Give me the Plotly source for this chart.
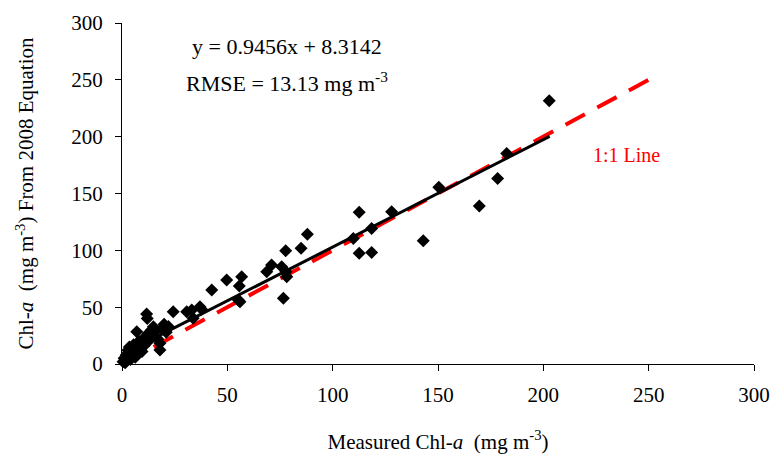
import plotly.graph_objects as go

# Measured vs. predicted chlorophyll-a (mg m^-3)
measured = [
    0.5, 1.0, 1.5, 2.0, 2.2, 2.8, 3.0, 3.5, 4.0, 4.2, 4.8, 5.0, 5.5, 6.0, 6.3,
    7.0, 7.0, 7.5, 8.0, 8.5, 9.0, 9.5, 10.0, 10.5, 11.0, 11.5, 11.7, 12.0, 12.5,
    13.0, 14.0, 14.9, 15.5, 16.0, 17.0, 18.0, 18.0, 19.0, 20.0, 21.0, 22.0,
    24.3, 30.7, 33.1, 33.8, 37.0, 37.8,
    42.6, 49.7, 55.2, 56.0, 55.7, 56.8, 68.7, 71.0, 75.8, 76.6, 77.7, 77.8,
    78.2, 85.0, 88.0,
    109.8, 112.6, 112.6, 118.5, 118.5, 128.0, 143.0, 150.4, 169.6, 178.3,
    182.6, 202.8,
]
predicted = [
    2, 5, 1, 8, 3, 12, 6, 15, 4, 10, 14, 8, 17, 12, 6,
    28.4, 15, 10, 20, 13, 17, 11, 22, 16, 19, 24, 44, 40, 27,
    21, 30, 32.8, 25, 29, 22, 18.2, 12.3, 31, 35, 28, 33,
    46, 46, 47.5, 40.2, 50.4, 48.1,
    65.1, 73.9, 56.3, 54.8, 68.6, 76.8, 81.2, 87.1, 85.6, 57.8, 99.6, 81.2,
    76.8, 101.8, 114.1,
    110.5, 133.4, 97.4, 119.3, 98.2, 134.0, 108.4, 155.4, 139.0, 163.3,
    185.3, 231.6,
]

# Linear fit and 1:1 reference
slope, intercept = 0.9456, 8.3142
fit_x = [0, 203]
fit_y = [slope * v + intercept for v in fit_x]
one_to_one = [0, 250]

axis_ticks = [0, 50, 100, 150, 200, 250, 300]
serif = "Liberation Serif, Times New Roman, serif"

fig = go.Figure()
fig.add_trace(go.Scatter(
    x=one_to_one, y=one_to_one, mode="lines",
    line=dict(color="#ff0000", width=4, dash="22px,14px"),
    showlegend=False, hoverinfo="skip",
))
fig.add_trace(go.Scatter(
    x=measured, y=predicted, mode="markers",
    marker=dict(symbol="diamond", size=10, color="black"),
    showlegend=False, cliponaxis=False,
))
fig.add_trace(go.Scatter(
    x=fit_x, y=fit_y, mode="lines",
    line=dict(color="black", width=3),
    showlegend=False, hoverinfo="skip",
))

axis_common = dict(
    range=[0, 300], tickvals=axis_ticks, showgrid=False, zeroline=False,
    showline=True, linecolor="black", linewidth=1, automargin=False,
    ticks="outside", ticklen=6, tickcolor="black", tickwidth=1,
    tickfont=dict(family=serif, size=21, color="black"),
)
fig.update_xaxes(
    **axis_common,
    ticklabelstandoff=6,
    title=dict(text="Measured Chl-<i>a</i>  (mg m<sup>-3</sup>)",
               font=dict(family=serif, size=21, color="black"), standoff=30),
)
fig.update_yaxes(
    **axis_common,
    ticklabelstandoff=8,
    title=dict(text="Chl-<i>a</i>  (mg m<sup>-3</sup>) From 2008 Equation",
               font=dict(family=serif, size=21, color="black"), standoff=31),
)

fig.add_annotation(x=0.261, y=0.93, xref="paper", yref="paper",
                   xanchor="center", yanchor="middle",
                   text="y = 0.9456x + 8.3142", showarrow=False,
                   font=dict(family=serif, size=22, color="black"))
fig.add_annotation(x=0.261, y=0.827, xref="paper", yref="paper",
                   xanchor="center", yanchor="middle",
                   text="RMSE = 13.13 mg m<sup>-3</sup>", showarrow=False,
                   font=dict(family=serif, size=22, color="black"))
fig.add_annotation(x=239.7, y=183.8, text="1:1 Line", showarrow=False,
                   xanchor="center", yanchor="middle",
                   font=dict(family=serif, size=20, color="#ff0000"))

fig.update_layout(
    width=774, height=454,
    margin=dict(l=122, r=20, t=23, b=90),
    paper_bgcolor="white", plot_bgcolor="white",
)

fig.write_html("out.html")
